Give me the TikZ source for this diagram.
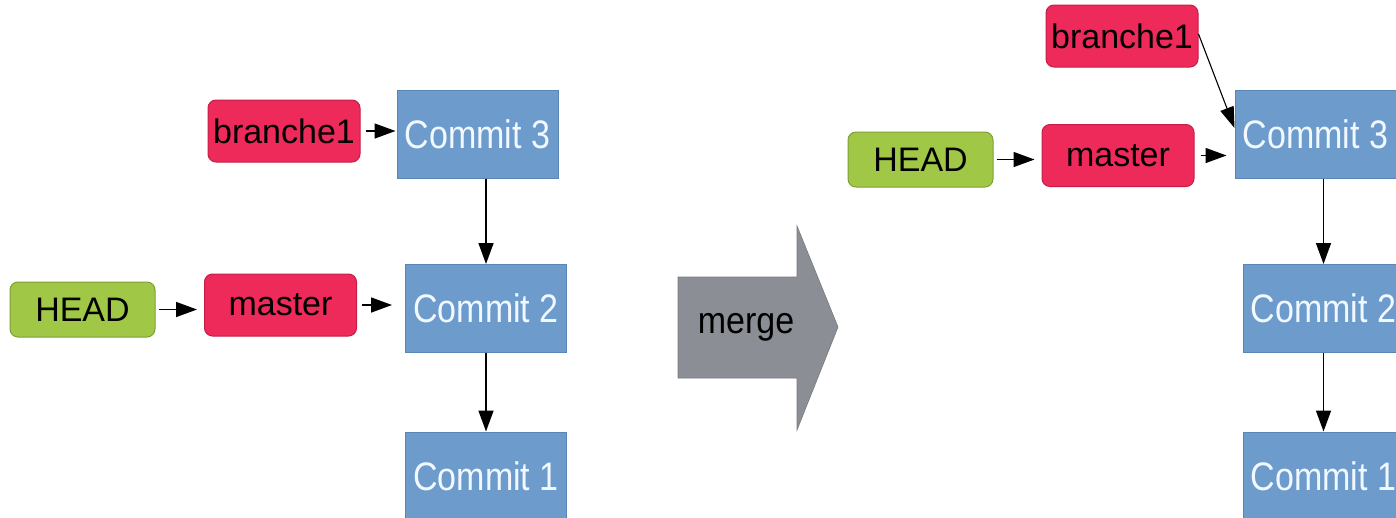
\documentclass[tikz,border=0pt]{standalone}
\usepackage{fontspec}
\setmainfont{Liberation Sans}
\usetikzlibrary{arrows.meta}
\definecolor{cblue}{HTML}{6C9BCC}
\definecolor{cblueb}{HTML}{5A86B6}
\definecolor{ctext}{HTML}{F2F8FF}
\definecolor{bred}{HTML}{EE2A5A}
\definecolor{bredb}{HTML}{C41E48}
\definecolor{hgreen}{HTML}{A0C846}
\definecolor{hgreenb}{HTML}{7E9E38}
\definecolor{mgray}{HTML}{8B8E94}
\newcommand{\tallt}[1]{\scalebox{1}[1.17]{#1}}
\tikzset{
  commit/.style={rectangle, fill=cblue, draw=cblueb, line width=1pt, minimum width=161pt, minimum height=88pt, inner sep=0pt, text=ctext, font=\fontsize{34}{40}\selectfont},
  branch/.style={rectangle, rounded corners=8pt, fill=bred, draw=bredb, line width=1pt, minimum width=152pt, minimum height=62pt, inner sep=0pt, text=black, font=\fontsize{34}{40}\selectfont},
  headbox/.style={rectangle, rounded corners=8pt, fill=hgreen, draw=hgreenb, line width=1pt, minimum width=145pt, minimum height=55pt, inner sep=0pt, text=black, font=\fontsize{34}{40}\selectfont},
  conn/.style={line width=1.5pt, -{Triangle[length=21pt,width=15pt]}},
}
\begin{document}
\begin{tikzpicture}[x=1pt,y=-1pt]
\useasboundingbox (0,0) rectangle (1396,517);
\clip (0,0) rectangle (1396,517);
% left side
\node[branch] (b1L) at (284,131) {branche1};
\node[commit] (c3L) at (477.5,134) {\tallt{Commit 3}};
\node[commit] (c2L) at (486,308.5) {\tallt{Commit 2}};
\node[commit] (c1L) at (486,476) {\tallt{Commit 1}};
\node[headbox] (hL) at (82.5,309.5) {HEAD};
\node[branch] (mL) at (280.5,305) {master};
\draw[conn, shorten <=5pt, shorten >=1pt] (b1L.east) -- (b1L.east -| c3L.west);
\draw[conn, shorten <=3pt, shorten >=7pt] (hL.east) -- (hL.east -| mL.west);
\draw[conn, shorten <=5pt, shorten >=13pt] (mL.east) -- (mL.east -| c2L.west);
\draw[conn] (c3L.south -| c2L.north) -- (c2L.north);
\draw[conn] (c2L.south) -- (c1L.north);
% merge arrow
\filldraw[fill=mgray, draw=mgray!85!black, line width=0.6pt]
  (678,277) -- (797,277) -- (797,226) -- (838,327) -- (797,430) -- (797,378) -- (678,378) -- cycle;
\node[font=\fontsize{34}{40}\selectfont, text=black] (mg) at (746,327) {\scalebox{1}[1.1]{merge}};
% right side
\node[branch] (b1R) at (1122,36) {branche1};
\node[commit] (c3R) at (1315.5,134) {\tallt{Commit 3}};
\node[branch] (mR) at (1118,155.5) {master};
\node[headbox] (hR) at (920.5,159.5) {HEAD};
\node[commit] (c2R) at (1323.5,308.5) {\tallt{Commit 2}};
\node[commit] (c1R) at (1323.5,476) {\tallt{Commit 1}};
\draw[conn, shorten <=3pt, shorten >=7pt] (hR.east) -- (hR.east -| mR.west);
\draw[conn, shorten <=6pt, shorten >=8pt] (mR.east) -- (mR.east -| c3R.west);
\draw[line width=1.1pt, -{Triangle[length=21pt,width=14pt]}] ([yshift=2pt]b1R.east) -- ([yshift=6pt]c3R.west);
\draw[conn] (c3R.south -| c2R.north) -- (c2R.north);
\draw[conn] (c2R.south) -- (c1R.north);
\end{tikzpicture}
\end{document}
